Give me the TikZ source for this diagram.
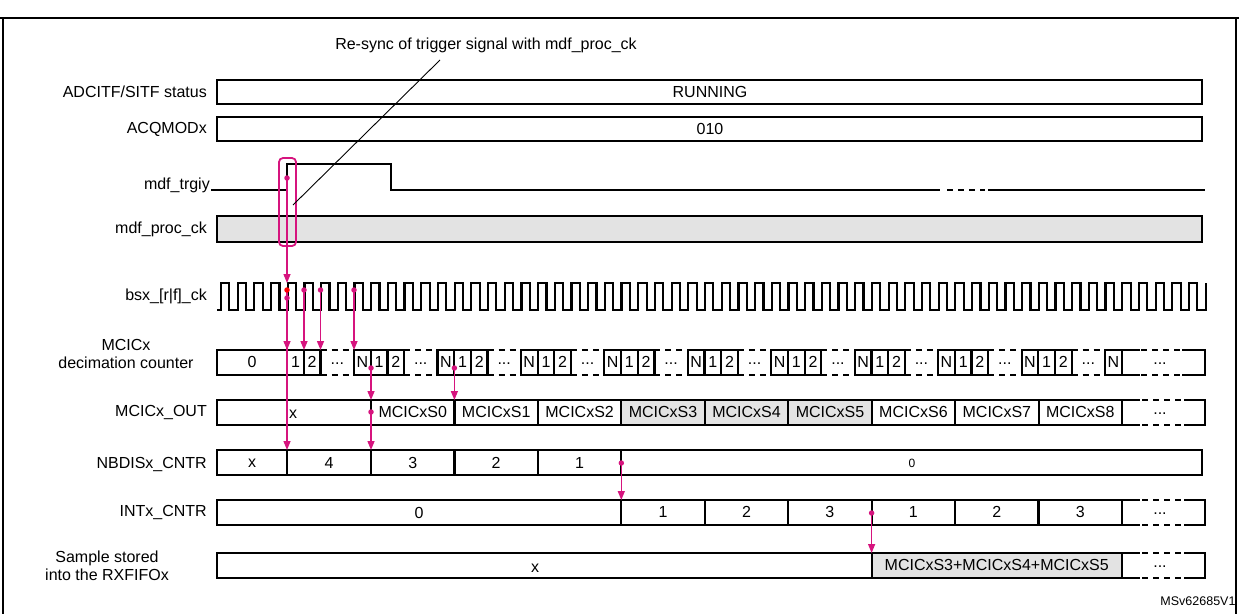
\documentclass[tikz,border=0pt]{standalone}
\usepackage{fontspec}
\setmainfont{Liberation Sans}
\usetikzlibrary{arrows.meta}
\definecolor{mag}{HTML}{D6147E}
\definecolor{cellgray}{HTML}{E3E3E3}
\begin{document}
\begin{tikzpicture}[x=1pt,y=-1pt,
  every node/.style={font=\fontsize{16}{18}\selectfont,inner sep=0pt},
  wave/.style={line width=2.2pt,line join=miter},
  cell/.style={draw,line width=2.2pt},
  gcell/.style={draw,line width=2.2pt,fill=cellgray},
  dsh/.style={line width=2.2pt,dash pattern=on 6pt off 5pt},
  lbl/.style={anchor=east,align=right},
  sig/.style={draw=mag,line width=1.4pt,-{Triangle[width=7pt,length=9pt]}},
  dotm/.style={fill=mag,draw=none,circle,minimum size=5.5pt,inner sep=0pt}]
\useasboundingbox (0,0) rectangle (1239,614);
% frame
\draw[line width=2.8pt] (0,18) -- (1239,18);
\draw[line width=1.4pt] (3,18) -- (3,614);
\draw[line width=1.4pt] (1236,18) -- (1236,614);
% labels
\node[lbl] (l1) at (207,92) {ADCITF/SITF status};
\node[lbl] (l2) at (207,129) {ACQMODx};
\node[lbl] (l3) at (210,185) {mdf\_trgiy};
\node[lbl] (l4) at (207,229) {mdf\_proc\_ck};
\node[lbl] (l5) at (207,296) {bsx\_[r|f]\_ck};
\node[align=center] (l6) at (126,354) {MCICx\\decimation counter};
\node[lbl] (l7) at (207,412) {MCICx\_OUT};
\node[lbl] (l8) at (207,464) {NBDISx\_CNTR};
\node[lbl] (l9) at (207,512) {INTx\_CNTR};
\node[align=center] (l10) at (107,566) {Sample stored\\into the RXFIFOx};
% status rows
\draw[cell] (217,80) rectangle (1202,104);
\node (run) at (710,92) {RUNNING};
\draw[cell] (217,117) rectangle (1202,141);
\node (acq) at (710,129) {010};
% trigger
\draw[wave] (211,190) -- (287,190) -- (287,164) -- (391,164) -- (391,190) -- (940,190);
\draw[dsh] (947,190) -- (985,190);
\draw[wave] (988,190) -- (1205,190);
% proc clock
\draw[gcell] (217,216) rectangle (1202,242);
\draw[mag,line width=1.8pt,rounded corners=4pt] (279,158) rectangle (296,246);
% note
\node (note) at (486,45) {Re-sync of trigger signal with mdf\_proc\_ck};
\coordinate (nl) at (440,60);
\coordinate (nr) at (293,205);
\draw[line width=0.9pt] (nl) -- (nr);
% bitstream clock
\draw[wave] (217,310) -- (221,310) \foreach \k in {0,...,58}{ -- ++(0,-27) -- ++(8.345,0) -- ++(0,27) -- ++(8.345,0)} -- ++(0,-27);
% decimation counter
\draw[cell] (217,350) rectangle (287,375);
\node (c0) at (252,362) {0};
\draw[cell] (287,350) rectangle (304,375); \node (c1a) at (295.5,362) {1};
\draw[cell] (304,350) rectangle (320.5,375); \node (c2a) at (312,362) {2};
\foreach \k in {0,...,9}{
  \pgfmathsetmacro{\n}{354+83.45*\k}
  \pgfmathsetmacro{\pe}{\n-33.4}
  \draw[dsh] (\pe,350) -- (\n,350);
  \draw[dsh] (\pe,375) -- (\n,375);
  \node (dd\k) at ({(\pe+\n)/2},364) {...};
  \draw[cell] (\n,350) rectangle ({\n+16.7},375);
  \node (cn\k) at ({\n+8.35},362) {N};
}
\foreach \k in {0,...,8}{
  \pgfmathsetmacro{\n}{354+83.45*\k}
  \draw[cell] ({\n+16.7},350) rectangle ({\n+33.4},375);
  \node (co\k) at ({\n+25.05},362) {1};
  \draw[cell] ({\n+33.4},350) rectangle ({\n+50.1},375);
  \node (ct\k) at ({\n+41.75},362) {2};
}
\draw[line width=2.2pt] (1121,350) -- (1140,350) (1121,375) -- (1140,375);
\draw[dsh] (1141,350) -- (1180,350) (1141,375) -- (1180,375);
\draw[line width=2.2pt] (1182,350) -- (1205,350) -- (1205,375) -- (1182,375);
\node (cend) at (1160,364) {...};
% MCICx_OUT
\draw[cell] (217,400) rectangle (371,425); \node (ox) at (293,414) {x};
\foreach \k/\t/\s in {0/MCICxS0/cell,1/MCICxS1/cell,2/MCICxS2/cell,3/MCICxS3/gcell,4/MCICxS4/gcell,5/MCICxS5/gcell,6/MCICxS6/cell,7/MCICxS7/cell,8/MCICxS8/cell}{
  \draw[\s] ({371+83.45*\k},400) rectangle ({371+83.45*(\k+1)},425);
  \node (o\k) at ({371+83.45*(\k+0.5)},412) {\t};
}
% dashed end cells
\foreach \yt/\yb/\nm in {400/425/oe,500/525/ie,553/578/re}{
  \draw[line width=2.2pt] (1122,\yt) -- (1140,\yt) (1122,\yb) -- (1140,\yb);
  \draw[dsh] (1142,\yt) -- (1182,\yt) (1142,\yb) -- (1182,\yb);
  \draw[line width=2.2pt] (1184,\yt) -- (1205,\yt) -- (1205,\yb) -- (1184,\yb);
  \node (\nm) at (1160,{\yt+14}) {...};
}
% NBDISx_CNTR
\draw[cell] (217,450) rectangle (287,475); \node (nx) at (252,463) {x};
\draw[cell] (287,450) rectangle (371,475); \node (n4) at (329,463) {4};
\draw[cell] (371,450) rectangle (454.4,475); \node (n3) at (412.7,463) {3};
\draw[cell] (454.4,450) rectangle (537.9,475); \node (n2) at (496,463) {2};
\draw[cell] (537.9,450) rectangle (621.3,475); \node (n1) at (579.6,463) {1};
\draw[cell] (621.3,450) rectangle (1202,475); \node[font=\fontsize{12}{13}\selectfont] (n0) at (912,463) {0};
% INTx_CNTR
\draw[cell] (217,500) rectangle (621.3,525); \node (i0) at (419,513) {0};
\foreach \k/\t in {0/1,1/2,2/3,3/1,4/2,5/3}{
  \draw[cell] ({621.3+83.45*\k},500) rectangle ({621.3+83.45*(\k+1)},525);
  \node (i\k) at ({621.3+83.45*(\k+0.5)},512) {\t};
}
% RXFIFO
\draw[cell] (217,553) rectangle (871.6,578); \node (rx) at (535,568) {x};
\draw[gcell] (871.6,553) rectangle (1121.9,578); \node (rs) at (996.7,565) {MCICxS3+MCICxS4+MCICxS5};
\node[font=\fontsize{12.5}{13}\selectfont] (ms) at (1198,601) {MSv62685V1};
% magenta arrows
\coordinate (a0) at (287,178); \coordinate (b0) at (287,283);
\draw[sig] (a0) -- (b0); \node[dotm] (d0) at (a0) {};
\coordinate (a1) at (287,298); \coordinate (b1) at (287,450);
\draw[sig] (a1) -- (b1); \node[dotm] (d1) at (a1) {};
\coordinate (a2) at (287,290); \coordinate (b2) at (287,350);
\draw[sig] (a2) -- (b2); \node[dotm,fill=red] (d2) at (a2) {};
\foreach \x [count=\i] in {304,320.5,354}{
  \coordinate (p\i) at (\x,290); \coordinate (q\i) at (\x,350);
  \draw[sig] (p\i) -- (q\i); \node[dotm] at (p\i) {};
}
\coordinate (a3) at (371,368); \coordinate (b3) at (371,400);
\draw[sig] (a3) -- (b3); \node[dotm] (d3) at (a3) {};
\coordinate (a4) at (371,412); \coordinate (b4) at (371,450);
\draw[sig] (a4) -- (b4); \node[dotm] (d4) at (a4) {};
\coordinate (a5) at (454.4,368); \coordinate (b5) at (454.4,400);
\draw[sig] (a5) -- (b5); \node[dotm] (d5) at (a5) {};
\coordinate (a6) at (621.3,463); \coordinate (b6) at (621.3,500);
\draw[sig] (a6) -- (b6); \node[dotm] (d6) at (a6) {};
\coordinate (a7) at (871.6,513); \coordinate (b7) at (871.6,553);
\draw[sig] (a7) -- (b7); \node[dotm] (d7) at (a7) {};
\end{tikzpicture}
\end{document}
